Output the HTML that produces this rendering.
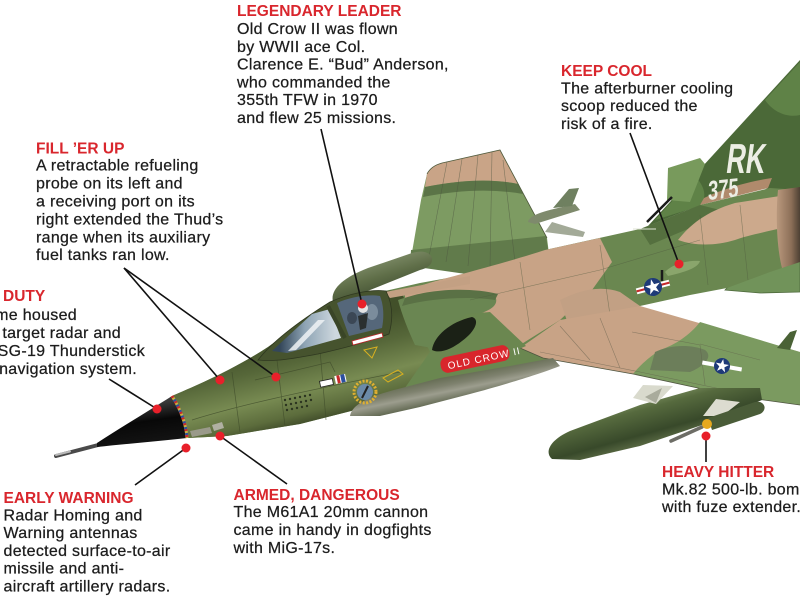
<!DOCTYPE html>
<html><head><meta charset="utf-8"><style>
html,body{margin:0;padding:0;background:#fff;width:800px;height:600px;overflow:hidden}
svg{display:block}
.h{font-family:"Liberation Sans",Arial,sans-serif;font-weight:bold;font-size:15.5px;fill:#d9262d}
.b{font-family:"Liberation Sans",Arial,sans-serif;font-size:16px;fill:#1c1c1c;letter-spacing:0.3px;stroke:#1c1c1c;stroke-width:0.25px}
</style></head><body>
<svg width="800" height="600" viewBox="0 0 800 600" xmlns="http://www.w3.org/2000/svg">
<defs>
<linearGradient id="fwd" gradientUnits="userSpaceOnUse" x1="250" y1="345" x2="272" y2="435">
<stop offset="0" stop-color="#42502a"/><stop offset=".3" stop-color="#566739"/><stop offset=".62" stop-color="#788b52"/><stop offset=".85" stop-color="#5c6c3c"/><stop offset="1" stop-color="#394425"/></linearGradient>
<linearGradient id="rad" gradientUnits="userSpaceOnUse" x1="140" y1="405" x2="146" y2="447">
<stop offset="0" stop-color="#3a3a3a"/><stop offset=".4" stop-color="#080808"/><stop offset="1" stop-color="#151515"/></linearGradient>
<linearGradient id="belly" gradientUnits="userSpaceOnUse" x1="450" y1="366" x2="458" y2="406">
<stop offset="0" stop-color="#4a5536"/><stop offset=".45" stop-color="#7f826f"/><stop offset=".6" stop-color="#9c9d8e"/><stop offset="1" stop-color="#434d32"/></linearGradient>
<linearGradient id="tank" gradientUnits="userSpaceOnUse" x1="600" y1="405" x2="614" y2="456">
<stop offset="0" stop-color="#869a6a"/><stop offset=".3" stop-color="#566a3e"/><stop offset=".75" stop-color="#38492a"/><stop offset="1" stop-color="#5f6f48"/></linearGradient>
<linearGradient id="ftank" gradientUnits="userSpaceOnUse" x1="380" y1="258" x2="390" y2="292">
<stop offset="0" stop-color="#7e8c68"/><stop offset=".5" stop-color="#5f6e48"/><stop offset="1" stop-color="#445234"/></linearGradient>
<linearGradient id="gl1" gradientUnits="userSpaceOnUse" x1="280" y1="330" x2="335" y2="330">
<stop offset="0" stop-color="#34475a"/><stop offset=".45" stop-color="#8ea4b4"/><stop offset="1" stop-color="#cdd7de"/></linearGradient>
<linearGradient id="exh" gradientUnits="userSpaceOnUse" x1="778" y1="0" x2="800" y2="0">
<stop offset="0" stop-color="#b6957a"/><stop offset=".6" stop-color="#8c6f58"/><stop offset="1" stop-color="#4d4034"/></linearGradient>
</defs>

<!-- far wing -->
<path d="M410,264 L421,200 L427,174 Q431,166 442,163 L500,150 L547,238 L550,262 L480,276 Z" fill="#7d9b62"/>
<path d="M427,174 Q431,166 442,163 L500,150 L518,184 Q480,176 425,187 Z" fill="#c9a487"/>
<path d="M425,187 Q480,176 518,184 L523,194 Q478,186 423,197 Z" fill="#5b7447"/>
<path d="M411,250 Q470,244 546,236 L550,262 L480,276 L410,266 Z" fill="#617b4b"/>
<g stroke="#4d5540" stroke-width=".6" opacity=".6" fill="none">
<path d="M447,162 L428,262"/><path d="M462,159 L446,262"/><path d="M478,155 L468,266"/><path d="M492,152 L490,268"/><path d="M503,160 L515,262"/></g>
<path d="M427,174 Q431,166 442,163 L500,150 L547,238" fill="none" stroke="#4f5a3c" stroke-width=".8"/>

<!-- far missile -->
<path d="M545,232 L583,237 L585,232 L552,222 Z" fill="#a3aa98"/>
<path d="M528,222 C530,214 545,211 575,204 L580,210 L535,224 Z" fill="#7e8a6c"/>
<path d="M553,208 L569,189 L579,188 L572,206 Z" fill="#6f8060"/>

<!-- far tank -->
<path d="M333,302 C330,290 342,278 368,268 L412,253 C422,250 430,252 432,258 C433,264 428,268 420,270 L350,298 C343,302 336,304 333,302 Z" fill="url(#ftank)"/>

<!-- fin -->
<path d="M648,226 L800,60 L800,192 L760,188 L700,205 Z" fill="#4b6938"/>
<path d="M655,220 L695,176 C704,186 708,196 700,206 Z" fill="#5f8247"/>
<path d="M765,100 L800,62 L800,115 C787,118 773,112 765,100 Z" fill="#5f8247"/>
<path d="M700,205 L768,188 L772,178 C750,181 722,189 704,198 Z" fill="#b08a6c"/>
<path d="M667,200 L668,168 L700,158 L705,164 L690,202 Z" fill="#789a5c"/>
<text transform="translate(725,173) scale(0.64,1) skewX(-12)" font-family="Liberation Sans,Arial,sans-serif" font-weight="bold" font-size="42" fill="#eceee4">RK</text>
<text transform="translate(708,200) rotate(-6) scale(0.68,1) skewX(-10)" font-family="Liberation Sans,Arial,sans-serif" font-weight="bold" font-size="27" fill="#eceee4">375</text>

<!-- stabilizer -->
<path d="M725,290 L744,270 L800,248 L800,292 L760,293 Z" fill="#71935a" stroke="#4e6a3c" stroke-width=".8"/>

<!-- main fuselage -->
<path d="M172,396 C190,388 230,372 268,347 L300,324 L335,302 L385,291 L420,283 L470,274 L545,250 L640,229 L650,226 L700,205 L770,188 L800,190 L800,262 L770,272 L727,288 L690,295 L640,306 L600,318 L560,340 L553,360 L520,368 L470,380 L400,395 L355,410 L300,424 L227,436 L188,438 C185,420 180,408 172,396 Z" fill="#6a8750"/>
<path d="M172,396 C190,388 230,372 268,347 L300,324 L335,302 L385,291 L400,290 C410,310 420,330 430,352 L400,395 L355,410 L300,424 L227,436 L188,438 C185,420 180,408 172,396 Z" fill="url(#fwd)"/>
<!-- mid tan -->
<path d="M405,292 C430,280 470,274 545,250 L600,238 L612,262 L592,290 L560,320 L520,345 L488,318 C460,305 430,300 405,302 Z" fill="#c8a386"/>
<path d="M385,292 L470,276 L470,284 L390,298 Z" fill="#c3a083"/>
<path d="M398,300 C420,292 460,290 495,296 C500,305 490,312 470,316 C455,320 440,330 432,348 L415,345 C408,330 402,315 398,300 Z" fill="#6a8652"/>
<path d="M405,298 C430,289 470,287 498,294 L495,300 C470,296 430,298 402,306 Z" fill="#5a7145"/>
<!-- rear fuselage camo -->
<path d="M640,229 L700,205 L720,210 L690,228 L650,245 Z" fill="#55703f"/>
<path d="M678,240 C690,225 705,212 735,203 L780,196 L782,228 C765,232 745,236 735,240 C715,246 695,246 678,240 Z" fill="#cca98c"/>
<path d="M778,190 L800,187 L800,262 L782,268 C776,245 776,210 778,190 Z" fill="url(#exh)"/>
<path d="M560,300 C580,290 600,285 620,292 L640,306 L600,318 L570,330 Z" fill="#c2a084"/>
<g stroke="#4f5a3e" stroke-width=".6" opacity=".55" fill="none">
<path d="M700,215 L708,285"/><path d="M740,205 L748,280"/><path d="M600,245 L610,315"/><path d="M520,262 L530,330"/><path d="M470,300 L600,270 L700,240"/></g>

<!-- near wing -->
<path d="M520,348 L560,320 L640,306 L800,352 L800,405 L735,396 L633,374 L543,358 Z" fill="#c8a386"/>
<path d="M800,352 L700,322 C690,335 675,345 660,350 C645,360 638,368 633,374 L735,396 L800,405 Z" fill="#7b9a60"/>
<path d="M655,352 C670,345 690,344 705,350 C715,358 700,368 690,372 L650,370 Z" fill="#6c7e5a"/>
<g stroke="#5d5a48" stroke-width=".6" opacity=".55" fill="none">
<path d="M540,352 L640,372 L735,392"/><path d="M560,326 L590,360"/><path d="M600,318 L620,368"/><path d="M632,332 L700,345 L705,385"/><path d="M700,344 L760,360"/></g>
<path d="M777,348 L790,332 L797,330 L790,350 Z" fill="#4a6236"/>
<path d="M520,348 L543,358 L633,374 L735,396 L800,405" fill="none" stroke="#4f5540" stroke-width=".8"/>

<!-- intake -->
<path d="M428,356 L466,314 L490,312 L526,346 L512,352 L452,368 Z" fill="#6b8750"/>
<path d="M432,350 C434,336 450,322 472,317 C480,319 476,331 462,341 C452,349 440,354 432,350 Z" fill="#1b2116"/>

<!-- belly -->
<path d="M350,416 C352,404 370,396 398,389 L440,378 L510,366 L553,358 L560,366 C540,374 500,386 470,394 L420,407 L380,416 Z" fill="url(#belly)"/>

<!-- badge -->
<g transform="rotate(-12 475 359)"><rect x="440" y="351" width="70" height="16" rx="7" fill="#d8262c"/><text x="447" y="363.5" font-family="Liberation Sans,Arial,sans-serif" font-size="10" letter-spacing="1" fill="#fff">OLD CROW II</text></g>

<!-- stars -->
<g transform="translate(653,287) rotate(-15)"><rect x="-17" y="-3" width="34" height="6" fill="#fff"/><rect x="-17" y="-1" width="34" height="2" fill="#c62a2a"/><circle r="9" fill="#1e3a78"/><polygon points="0,-8 1.8,-2.5 7.6,-2.5 2.9,1 4.7,6.5 0,3.1 -4.7,6.5 -2.9,1 -7.6,-2.5 -1.8,-2.5" fill="#fff"/></g>
<g transform="translate(722,366) rotate(10)"><rect x="-20" y="-2" width="40" height="4" fill="#fff"/><circle r="8" fill="#1e3a78"/><polygon points="0,-7 1.6,-2.2 6.7,-2.2 2.6,0.9 4.1,5.7 0,2.7 -4.1,5.7 -2.6,0.9 -6.7,-2.2 -1.6,-2.2" fill="#fff"/></g>
<!-- scoop -->
<path d="M665,272 C672,264 688,260 700,261 C698,268 685,272 668,276 Z" fill="#8aa56c"/>
<path d="M662,270 L662,281" stroke="#1a1a1a" stroke-width="2.5"/>
<path d="M647,222 L672,197" stroke="#1a1a1a" stroke-width="2.5"/>
<path d="M633,229 L656,229" stroke="#dfe3d4" stroke-width="1"/>

<!-- near tank -->
<path d="M552,459 C544,452 550,440 570,431 L640,405 L700,388 L760,388 L762,400 L705,424 L640,446 L580,460 Z" fill="url(#tank)"/>
<path d="M633,398 L643,385 L673,386 L656,404 Z" fill="#d9dacd"/>
<path d="M645,397 L662,388 L656,403 Z" fill="#a9ab9c"/>
<!-- bomb -->
<path d="M703,416 L716,399 L740,402 L722,416 Z" fill="#dcdcd0"/>
<path d="M708,418 L755,402 C765,400 768,410 760,414 L712,430 Z" fill="#4a5c38"/>
<line x1="671" y1="441" x2="702" y2="427" stroke="#6d6d66" stroke-width="3.5" stroke-linecap="round"/>
<circle cx="707" cy="424" r="5" fill="#e6a81e"/>

<!-- nose -->
<line x1="56" y1="456" x2="102" y2="444" stroke="#4a4a4a" stroke-width="4" stroke-linecap="round"/>
<line x1="56" y1="455" x2="70" y2="451.5" stroke="#b8b8b8" stroke-width="2" stroke-linecap="round"/>
<path d="M97,443 C120,428 150,410 172,396 C181,410 186,424 187,438 C160,441 125,444 97,447 Z" fill="url(#rad)"/>
<path d="M172,396 C181,410 186,424 187,438" fill="none" stroke="#c9b040" stroke-width="3"/>
<path d="M172,396 C181,410 186,424 187,438" fill="none" stroke="#c8282c" stroke-width="3" stroke-dasharray="2 4"/>
<path d="M172,396 C181,410 186,424 187,438" fill="none" stroke="#2b4fa0" stroke-width="3" stroke-dasharray="2 4" stroke-dashoffset="2"/>
<path d="M190,431 L210,427 L212,433 L192,437 Z" fill="#9a9a8a"/>
<path d="M212,425 L222,422 L224,428 L214,431 Z" fill="#b0b0a2"/>
<g stroke="#3c4828" stroke-width=".7" opacity=".7" fill="none">
<path d="M192,420 C240,405 300,392 400,372"/><path d="M232,372 L240,432"/><path d="M276,352 L285,426"/><path d="M320,350 L326,420"/><path d="M255,380 L330,362 L335,372"/></g>
<g fill="#2c3520"><circle cx="285" cy="400" r="1.2"/><circle cx="290" cy="399" r="1.2"/><circle cx="295" cy="398" r="1.2"/><circle cx="300" cy="397" r="1.2"/><circle cx="305" cy="396" r="1.2"/><circle cx="310" cy="395" r="1.2"/><circle cx="286" cy="405" r="1.2"/><circle cx="291" cy="404" r="1.2"/><circle cx="296" cy="403" r="1.2"/><circle cx="301" cy="402" r="1.2"/><circle cx="306" cy="401" r="1.2"/><circle cx="311" cy="400" r="1.2"/><circle cx="287" cy="410" r="1.2"/><circle cx="292" cy="409" r="1.2"/><circle cx="297" cy="408" r="1.2"/><circle cx="302" cy="407" r="1.2"/><circle cx="307" cy="406" r="1.2"/></g>

<!-- canopy -->
<path d="M258,360 C272,342 298,322 330,302 C348,294 370,289 386,291 C393,305 393,320 389,334 C370,341 345,348 318,354 C296,358 276,362 258,360 Z" fill="#46532e" stroke="#2f3820" stroke-width=".8"/>
<path d="M272,351 L312,314 L330,309 L341,338 L287,353 Z" fill="url(#gl1)"/>
<path d="M288,351 L318,320 L325,320 L296,350 Z" fill="#eef2f4" opacity=".85"/>
<path d="M337,303 C350,297 368,294 380,296 C384,306 384,318 382,328 L349,336 Z" fill="#55677a"/>
<ellipse cx="372" cy="312" rx="6" ry="8" fill="#8c9cab" opacity=".7"/>
<ellipse cx="352" cy="318" rx="5" ry="6" fill="#34404c" opacity=".8"/>
<path d="M328,306 L345,338" stroke="#3a4527" stroke-width="4"/>
<circle cx="363" cy="308" r="5" fill="#e4e4e4"/>
<path d="M358,316 L368,313 L366,328 L360,330 Z" fill="#2a2f30"/>

<!-- decals -->
<path d="M352,341 L382,333 L383,337 L353,345 Z" fill="#fff" stroke="#c3262a" stroke-width=".8"/>
<path d="M364,350 L377,347 L372,358 Z" fill="none" stroke="#d8b020" stroke-width="1"/>
<rect x="320" y="380" width="13" height="6" fill="#fff" stroke="#222" stroke-width=".8" transform="rotate(-12 326 383)"/>
<rect x="335" y="375" width="11" height="8" fill="#fff" transform="rotate(-12 340 379)"/>
<rect x="337" y="375" width="3" height="8" fill="#c62a2a" transform="rotate(-12 340 379)"/>
<rect x="341" y="375" width="4" height="8" fill="#2b4fa0" transform="rotate(-12 340 379)"/>
<circle cx="365" cy="392" r="11" fill="none" stroke="#e0b030" stroke-width="3" stroke-dasharray="2 1.5"/>
<circle cx="365" cy="392" r="8" fill="#6b8aa8"/>
<path d="M362,398 L368,386" stroke="#222" stroke-width="2"/>
<path d="M383,378 L398,370 L403,374 L388,382 Z" fill="none" stroke="#d8b020" stroke-width="1"/>

<!-- connectors -->
<g stroke="#111" stroke-width="1.6" fill="none">
<line x1="321" y1="129" x2="362" y2="304"/>
<line x1="124" y1="268" x2="220" y2="380"/>
<line x1="124" y1="268" x2="276" y2="377"/>
<line x1="109" y1="379" x2="157" y2="409"/>
<line x1="135" y1="485" x2="186" y2="448"/>
<line x1="220" y1="436" x2="287" y2="484"/>
<line x1="630" y1="133" x2="679" y2="264"/>
<line x1="706" y1="436" x2="706" y2="462"/>
</g>
<g fill="#e8202a">
<circle cx="362" cy="304" r="4.5"/><circle cx="220" cy="380" r="4.5"/><circle cx="276" cy="377" r="4.5"/><circle cx="157" cy="409" r="4.5"/><circle cx="186" cy="448" r="4.5"/><circle cx="220" cy="436" r="4.5"/><circle cx="679" cy="264" r="4.5"/><circle cx="706" cy="436" r="4.5"/>
</g>

<!-- text -->
<text class="h" x="237" y="16">LEGENDARY LEADER</text>
<text class="b" x="237" y="34">Old Crow II was flown</text>
<text class="b" x="237" y="51.8">by WWII ace Col.</text>
<text class="b" x="237" y="69.6">Clarence E. “Bud” Anderson,</text>
<text class="b" x="237" y="87.4">who commanded the</text>
<text class="b" x="237" y="105.2">355th TFW in 1970</text>
<text class="b" x="237" y="123">and flew 25 missions.</text>

<text class="h" x="36" y="153.5">FILL ’ER UP</text>
<text class="b" x="36" y="170.7">A retractable refueling</text>
<text class="b" x="36" y="188.6">probe on its left and</text>
<text class="b" x="36" y="206.5">a receiving port on its</text>
<text class="b" x="36" y="224.4">right extended the Thud’s</text>
<text class="b" x="36" y="242.3">range when its auxiliary</text>
<text class="b" x="36" y="260.2">fuel tanks ran low.</text>

<text class="h" x="561" y="76">KEEP COOL</text>
<text class="b" x="561" y="93.3">The afterburner cooling</text>
<text class="b" x="561" y="111.1">scoop reduced the</text>
<text class="b" x="561" y="128.9">risk of a fire.</text>

<text class="h" x="3" y="301">DUTY</text>
<text class="b" x="77" y="320" text-anchor="end">radome housed</text>
<text class="b" x="121" y="338" text-anchor="end">the target radar and</text>
<text class="b" x="145" y="356" text-anchor="end">the ASG-19 Thunderstick</text>
<text class="b" x="137" y="374" text-anchor="end">fire/navigation system.</text>

<text class="h" x="3.5" y="503">EARLY WARNING</text>
<text class="b" x="3.5" y="520.3">Radar Homing and</text>
<text class="b" x="3.5" y="538.1">Warning antennas</text>
<text class="b" x="3.5" y="555.9">detected surface-to-air</text>
<text class="b" x="3.5" y="573.7">missile and anti-</text>
<text class="b" x="3.5" y="591.5">aircraft artillery radars.</text>

<text class="h" x="233.5" y="500">ARMED, DANGEROUS</text>
<text class="b" x="233.5" y="517">The M61A1 20mm cannon</text>
<text class="b" x="233.5" y="535">came in handy in dogfights</text>
<text class="b" x="233.5" y="553">with MiG-17s.</text>

<text class="h" x="662" y="477">HEAVY HITTER</text>
<text class="b" x="662" y="494.3">Mk.82 500-lb. bomb</text>
<text class="b" x="662" y="512">with fuze extender.</text>
</svg>
</body></html>
